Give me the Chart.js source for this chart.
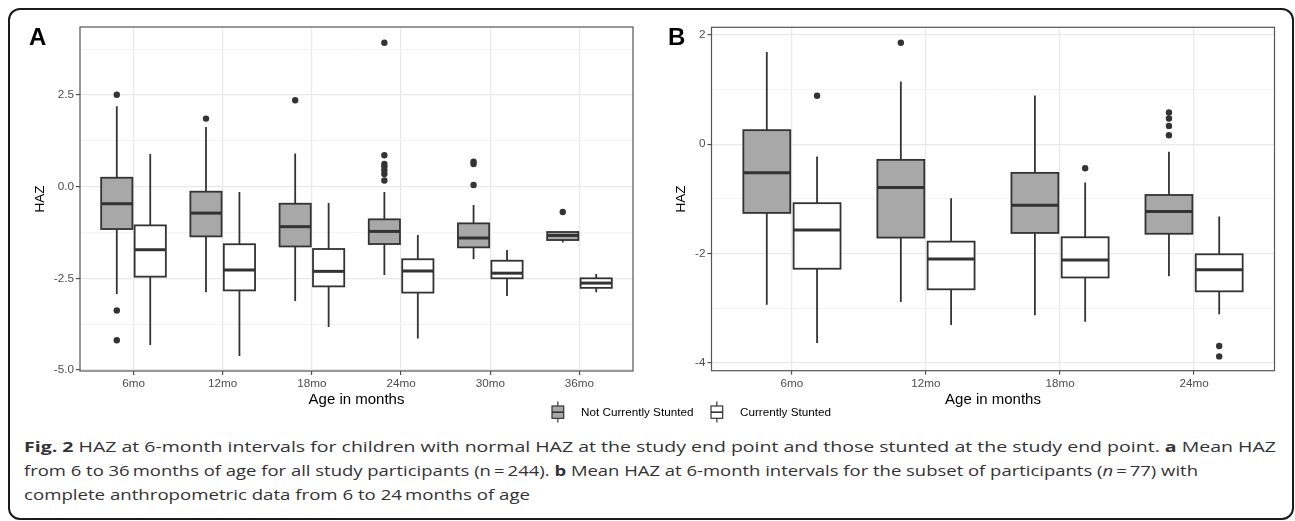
<!DOCTYPE html>
<html>
<head>
<meta charset="utf-8">
<script src="https://cdn.jsdelivr.net/npm/chart.js@4.4.1/dist/chart.umd.min.js"></script>
<style>
  html, body { margin: 0; padding: 0; background: #fff; }
  body { width: 1295px; height: 521px; position: relative; overflow: hidden; font-family: 'Liberation Sans', Arial, sans-serif; }
  #frame { position: absolute; left: 8px; top: 8px; width: 1282px; height: 508px; border: 2px solid #1a1a1a; border-radius: 12px; box-sizing: content-box; }
  canvas { position: absolute; top: 0; }
  #ca { left: 0; }
  #cb { left: 645px; }
  .plabel { position: absolute; font: bold 24px 'Liberation Sans', Arial, sans-serif; color: #000; line-height: 24px; }
  .lkey { position: absolute; top: 401px; }
  .ltext { position: absolute; top: 405px; font: 11.7px 'Liberation Sans', Arial, sans-serif; line-height: 14px; color: #000; white-space: nowrap; }
  .cap { position: absolute; left: 24px; font-family: 'Open Sans', 'Noto Sans', sans-serif; font-size: 14.6px; color: #333; white-space: nowrap; line-height: 24px; transform-origin: 0 50%; }
</style>
</head>
<body>
<div id="frame"></div>
<canvas id="ca" width="645" height="430"></canvas>
<canvas id="cb" width="650" height="430"></canvas>
<div class="plabel" style="left:29px; top:25px;">A</div>
<div class="plabel" style="left:668px; top:25px;">B</div>

<svg class="lkey" style="left:551px;" width="14" height="22">
  <line x1="6.85" y1="0.5" x2="6.85" y2="5" stroke="#333" stroke-width="1.2"/>
  <line x1="6.85" y1="17.3" x2="6.85" y2="21.5" stroke="#333" stroke-width="1.2"/>
  <rect x="1" y="5" width="11.7" height="12.3" fill="#a8a8a8" stroke="#333" stroke-width="1.2"/>
  <line x1="1" y1="11.2" x2="12.7" y2="11.2" stroke="#333" stroke-width="1.6"/>
</svg>
<div class="ltext" style="left:581px;">Not Currently Stunted</div>
<svg class="lkey" style="left:710px;" width="14" height="22">
  <line x1="6.85" y1="0.5" x2="6.85" y2="5" stroke="#333" stroke-width="1.2"/>
  <line x1="6.85" y1="17.3" x2="6.85" y2="21.5" stroke="#333" stroke-width="1.2"/>
  <rect x="1" y="5" width="11.7" height="12.3" fill="#ffffff" stroke="#333" stroke-width="1.2"/>
  <line x1="1" y1="11.2" x2="12.7" y2="11.2" stroke="#333" stroke-width="1.6"/>
</svg>
<div class="ltext" style="left:740px;">Currently Stunted</div>

<div class="cap" id="cap1" style="top:434px;"><b>Fig. 2</b> HAZ at 6-month intervals for children with normal HAZ at the study end point and those stunted at the study end point. <b>a</b> Mean HAZ</div>
<div class="cap" id="cap2" style="top:458px;">from 6 to 36&thinsp;months of age for all study participants (n&thinsp;=&thinsp;244). <b>b</b> Mean HAZ at 6-month intervals for the subset of participants (<i>n</i>&thinsp;=&thinsp;77) with</div>
<div class="cap" id="cap3" style="top:482px;">complete anthropometric data from 6 to 24&thinsp;months of age</div>

<script>
// ---------------- DATA ----------------
// Panel A (all participants)
const categoriesA = ['6mo', '12mo', '18mo', '24mo', '30mo', '36mo'];
const A_notStunted_low    = [-2.93, -2.88, -3.12, -2.41, -1.98, -1.52];
const A_notStunted_q1     = [-1.155, -1.355, -1.63, -1.564, -1.655, -1.455];
const A_notStunted_median = [-0.464, -0.72, -1.09, -1.22, -1.40, -1.33];
const A_notStunted_q3     = [0.245, -0.136, -0.464, -0.89, -1.00, -1.236];
const A_notStunted_high   = [2.20, 1.63, 0.91, -0.145, -0.50, -1.236];
const A_notStunted_outliers = [[2.51, -3.38, -4.19], [1.86], [2.36], [3.93, 0.86, 0.62, 0.55, 0.45, 0.35, 0.17], [0.68, 0.62, 0.046], [-0.69]];

const A_stunted_low    = [-4.32, -4.62, -3.83, -4.14, -2.98, -2.88];
const A_stunted_q1     = [-2.455, -2.83, -2.72, -2.89, -2.50, -2.76];
const A_stunted_median = [-1.72, -2.27, -2.31, -2.30, -2.36, -2.63];
const A_stunted_q3     = [-1.055, -1.57, -1.70, -1.98, -2.02, -2.50];
const A_stunted_high   = [0.89, -0.145, -0.445, -1.32, -1.73, -2.38];
const A_stunted_outliers = [[], [], [], [], [], []];

const A_yMajorTicks = [-5.0, -2.5, 0.0, 2.5];
const A_yTickLabels = ['-5.0', '-2.5', '0.0', '2.5'];
const A_yMinorTicks = [-3.75, -1.25, 1.25, 3.75];

// Panel B (complete-data subset)
const categoriesB = ['6mo', '12mo', '18mo', '24mo'];
const B_notStunted_low    = [-2.94, -2.89, -3.13, -2.42];
const B_notStunted_q1     = [-1.258, -1.71, -1.625, -1.64];
const B_notStunted_median = [-0.525, -0.794, -1.118, -1.234];
const B_notStunted_q3     = [0.257, -0.287, -0.525, -0.93];
const B_notStunted_high   = [1.69, 1.148, 0.892, -0.14];
const B_notStunted_outliers = [[], [1.857], [], [0.58, 0.47, 0.335, 0.165]];

const B_stunted_low    = [-3.64, -3.31, -3.25, -3.115];
const B_stunted_q1     = [-2.28, -2.657, -2.44, -2.694];
const B_stunted_median = [-1.57, -2.10, -2.12, -2.30];
const B_stunted_q3     = [-1.08, -1.784, -1.704, -2.016];
const B_stunted_high   = [-0.226, -0.99, -0.70, -1.326];
const B_stunted_outliers = [[0.886], [], [-0.44], [-3.696, -3.885]];

const B_yMajorTicks = [-4, -2, 0, 2];
const B_yTickLabels = ['-4', '-2', '0', '2'];
const B_yMinorTicks = [-3, -1, 1];

const seriesNames = ['Not Currently Stunted', 'Currently Stunted'];

// ---------------- STYLE ----------------
const FILL_NOT = '#a8a8a8';
const FILL_ST = '#ffffff';
const LINE = '#333333';
const DODGE = 0.1875;
const HALF_W = 0.175;

function makeBoxPlugin(groups) {
  return {
    id: 'ggbox',
    beforeDatasetsDraw(chart) {
      const { ctx, chartArea } = chart;
      const x = chart.scales.x, y = chart.scales.y;
      ctx.save();
      ctx.beginPath();
      ctx.rect(chartArea.left, chartArea.top, chartArea.width, chartArea.height);
      ctx.clip();
      groups.forEach(g => {
        for (let i = 0; i < g.median.length; i++) {
          const c = i + g.offset;
          const xc = x.getPixelForValue(c);
          const x0 = x.getPixelForValue(c - HALF_W);
          const x1 = x.getPixelForValue(c + HALF_W);
          const yLo = y.getPixelForValue(g.low[i]);
          const yQ1 = y.getPixelForValue(g.q1[i]);
          const yMd = y.getPixelForValue(g.median[i]);
          const yQ3 = y.getPixelForValue(g.q3[i]);
          const yHi = y.getPixelForValue(g.high[i]);
          ctx.strokeStyle = LINE;
          ctx.lineWidth = 1.8;
          ctx.beginPath();
          ctx.moveTo(xc, yQ3); ctx.lineTo(xc, yHi);
          ctx.moveTo(xc, yQ1); ctx.lineTo(xc, yLo);
          ctx.stroke();
          ctx.fillStyle = g.fill;
          ctx.fillRect(x0, yQ3, x1 - x0, yQ1 - yQ3);
          ctx.lineWidth = 1.8;
          ctx.strokeRect(x0, yQ3, x1 - x0, yQ1 - yQ3);
          ctx.lineWidth = 3;
          ctx.beginPath();
          ctx.moveTo(x0, yMd); ctx.lineTo(x1, yMd);
          ctx.stroke();
        }
      });
      ctx.restore();
    },
    afterDraw(chart) {
      const { ctx, chartArea } = chart;
      ctx.save();
      ctx.strokeStyle = '#555555';
      ctx.lineWidth = 1.2;
      ctx.strokeRect(chartArea.left, chartArea.top, chartArea.width, chartArea.height);
      ctx.restore();
    }
  };
}

function outlierPoints(outliers, offset) {
  const pts = [];
  outliers.forEach((arr, i) => arr.forEach(v => pts.push({ x: i + offset, y: v })));
  return pts;
}

function makePanel(canvasId, cfg) {
  const groups = [
    { fill: FILL_NOT, offset: -DODGE, low: cfg.not.low, q1: cfg.not.q1, median: cfg.not.median, q3: cfg.not.q3, high: cfg.not.high },
    { fill: FILL_ST, offset: DODGE, low: cfg.st.low, q1: cfg.st.q1, median: cfg.st.median, q3: cfg.st.q3, high: cfg.st.high }
  ];
  const allY = cfg.major.concat(cfg.minor).sort((a, b) => a - b);
  const isMajor = v => cfg.major.some(m => Math.abs(m - v) < 1e-9);
  const n = cfg.cats.length;
  return new Chart(document.getElementById(canvasId), {
    type: 'scatter',
    data: {
      datasets: [
        { label: seriesNames[0], data: outlierPoints(cfg.not.outliers, -DODGE), pointRadius: 3.2, pointBackgroundColor: LINE, pointBorderWidth: 0 },
        { label: seriesNames[1], data: outlierPoints(cfg.st.outliers, DODGE), pointRadius: 3.2, pointBackgroundColor: LINE, pointBorderWidth: 0 }
      ]
    },
    options: {
      responsive: false,
      animation: false,
      events: [],
      layout: { padding: cfg.padding },
      plugins: { legend: { display: false }, tooltip: { enabled: false } },
      scales: {
        x: {
          type: 'linear',
          min: -0.6,
          max: n - 1 + 0.6,
          afterBuildTicks: s => { s.ticks = cfg.cats.map((c, i) => ({ value: i })); },
          afterFit: s => { s.height = cfg.xHeight; },
          ticks: {
            autoSkip: false, maxRotation: 0, padding: 2,
            color: '#4d4d4d',
            font: { family: 'Liberation Sans', size: 11.7 },
            callback: v => cfg.cats[Math.round(v)]
          },
          grid: { color: '#e9e9e9', lineWidth: 1.3, tickLength: 4, tickColor: LINE, tickWidth: 1 },
          border: { display: false },
          title: {
            display: true, text: 'Age in months', color: '#000',
            font: { family: 'Liberation Sans', size: 15 },
            padding: { top: 0, bottom: cfg.xTitlePad }
          }
        },
        y: {
          type: 'linear',
          min: cfg.yMin,
          max: cfg.yMax,
          afterBuildTicks: s => { s.ticks = allY.map(v => ({ value: v })); },
          afterFit: s => { s.width = cfg.yWidth; },
          ticks: {
            autoSkip: false, padding: 2,
            color: '#4d4d4d',
            font: { family: 'Liberation Sans', size: 11.7 },
            callback: v => {
              const k = cfg.major.findIndex(m => Math.abs(m - v) < 1e-9);
              return k >= 0 ? cfg.labels[k] : '';
            }
          },
          grid: {
            color: c => (c.tick && isMajor(c.tick.value)) ? '#e9e9e9' : '#f2f2f2',
            lineWidth: c => (c.tick && isMajor(c.tick.value)) ? 1.3 : 0.9,
            tickLength: 4,
            tickColor: c => (c.tick && isMajor(c.tick.value)) ? LINE : 'rgba(0,0,0,0)',
            tickWidth: 1
          },
          border: { display: false },
          title: {
            display: true, text: 'HAZ', color: '#000',
            font: { family: 'Liberation Sans', size: 13.5 },
            padding: { top: cfg.yTitlePad, bottom: 0 }
          }
        }
      }
    },
    plugins: [makeBoxPlugin(groups)]
  });
}

makePanel('ca', {
  cats: categoriesA,
  not: { low: A_notStunted_low, q1: A_notStunted_q1, median: A_notStunted_median, q3: A_notStunted_q3, high: A_notStunted_high, outliers: A_notStunted_outliers },
  st: { low: A_stunted_low, q1: A_stunted_q1, median: A_stunted_median, q3: A_stunted_q3, high: A_stunted_high, outliers: A_stunted_outliers },
  major: A_yMajorTicks, labels: A_yTickLabels, minor: A_yMinorTicks,
  yMin: -5.03, yMax: 4.36,
  padding: { left: 0, top: 27, right: 12, bottom: 0 },
  yWidth: 80, xHeight: 59,
  xTitlePad: 21.5, yTitlePad: 31.9
});

makePanel('cb', {
  cats: categoriesB,
  not: { low: B_notStunted_low, q1: B_notStunted_q1, median: B_notStunted_median, q3: B_notStunted_q3, high: B_notStunted_high, outliers: B_notStunted_outliers },
  st: { low: B_stunted_low, q1: B_stunted_q1, median: B_stunted_median, q3: B_stunted_q3, high: B_stunted_high, outliers: B_stunted_outliers },
  major: B_yMajorTicks, labels: B_yTickLabels, minor: B_yMinorTicks,
  yMin: -4.147, yMax: 2.14,
  padding: { left: 0, top: 27.3, right: 20.5, bottom: 0 },
  yWidth: 66.5, xHeight: 59.3,
  xTitlePad: 21.5, yTitlePad: 28.6
});

// caption layout: the reference picture is stretched horizontally, so each caption
// line is scaled in x to the width it has there
function fitCaption() {
  const targets = { cap1: 1252, cap2: 1174, cap3: 506 };
  Object.keys(targets).forEach(id => {
    const el = document.getElementById(id);
    el.style.transform = 'none';
    const w = el.getBoundingClientRect().width;
    if (w > 0) el.style.transform = 'scaleX(' + (targets[id] / w).toFixed(4) + ')';
  });
}
const fontLoads = document.fonts ? Promise.all([
  document.fonts.load('14.6px "Open Sans"'),
  document.fonts.load('bold 14.6px "Open Sans"'),
  document.fonts.load('italic 14.6px "Open Sans"')
]).catch(() => {}) : Promise.resolve();
fitCaption();
fontLoads.then(() => { fitCaption(); });
</script>
</body>
</html>
